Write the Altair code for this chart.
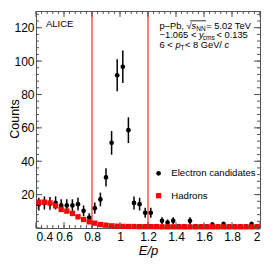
import altair as alt
import pandas as pd

# ---------------- data ----------------
ep_bins = [0.42, 0.46, 0.50, 0.54, 0.58, 0.62, 0.66, 0.70, 0.74, 0.78,
           0.82, 0.86, 0.90, 0.94, 0.98, 1.02, 1.06, 1.10, 1.14, 1.18,
           1.22, 1.26, 1.30, 1.34, 1.38, 1.42, 1.46, 1.50, 1.54, 1.58,
           1.62, 1.66, 1.70, 1.74, 1.78, 1.82, 1.86, 1.90, 1.94, 1.98]
electrons = [14.3, 15.0, 14.7, 15.0, 13.5, 13.5, 13.5, 14.3, 10.3, 6.3,
             11.9, 17.1, 30.3, 51.0, 91.5, 96.6, 58.6, 15.0, 14.3, 9.1,
             9.1, 1.0, 4.3, 3.3, 4.3, 1.2, 1.0, 4.3, 1.0, 1.0,
             1.0, 2.1, 1.0, 2.3, 1.0, 1.0, 1.0, 1.0, 2.3, 1.0]
electron_err = [3.8, 3.9, 3.8, 3.9, 3.7, 3.7, 3.7, 3.8, 3.2, 2.5,
                3.4, 4.1, 5.5, 7.1, 9.6, 9.8, 7.7, 3.9, 3.8, 3.0,
                3.0, 1.0, 2.1, 1.8, 2.1, 1.1, 1.0, 2.1, 1.0, 1.0,
                1.0, 1.4, 1.0, 1.5, 1.0, 1.0, 1.0, 1.0, 1.5, 1.0]
hadrons = [15.5, 15.5, 15.0, 13.3, 11.1, 10.1, 8.7, 6.7, 5.1, 3.7,
           2.9, 2.1, 1.7, 1.3, 1.1, 1.0, 0.9, 0.9, 0.8, 0.8,
           0.8, 0.8, 0.7, 0.7, 0.7, 0.7, 0.7, 0.7, 0.7, 0.7,
           0.7, 0.7, 0.7, 0.7, 0.7, 0.7, 0.7, 0.7, 0.7, 0.7]
cut_lines = [0.8, 1.2]

x_labels = [0.4, 0.6, 0.8, 1.0, 1.2, 1.4, 1.6, 1.8, 2.0]
y_labels = [20, 40, 60, 80, 100, 120]
x_minor = [round(0.4 + 0.04 * i, 2) for i in range(41)]
y_minor = [4 * i for i in range(33)]
y_major = [0] + y_labels

# ---------------- layout ----------------
W, H = 224, 217
FONT = "Liberation Sans"
AX = "#555555"
xs = alt.Scale(domain=[0.4, 2.0], nice=False, zero=False)
ys = alt.Scale(domain=[0, 130], nice=False, zero=False)

x_axis = alt.Axis(
    values=x_labels, format="~g", ticks=False, domain=False, grid=False,
    labelFont=FONT, labelFontSize=12, labelColor="black", labelPadding=3,
    title="E/p", titleFont=FONT, titleFontSize=13, titleFontStyle="italic",
    titleFontWeight="normal", titleColor="black", titlePadding=2)
y_axis = alt.Axis(
    values=y_labels, format="d", ticks=False, domain=False, grid=False,
    labelFont=FONT, labelFontSize=12, labelColor="black", labelPadding=2,
    title=None)

df = pd.DataFrame({"ep": ep_bins, "e": electrons, "err": electron_err, "h": hadrons})
df["lo"] = df["e"] - df["err"]
df["hi"] = df["e"] + df["err"]

layers = []

# error bars first (carry the axes)
layers.append(
    alt.Chart(df).mark_rule(color="black", strokeWidth=1.5)
    .encode(x=alt.X("ep:Q", scale=xs, axis=x_axis),
            y=alt.Y("lo:Q", scale=ys, axis=y_axis), y2="hi:Q")
)

layers.append(
    alt.Chart(pd.DataFrame({"c": cut_lines})).mark_rule(color="#ff0000", strokeWidth=1)
    .encode(x=alt.X("c:Q", scale=xs, axis=x_axis))
)

layers.append(
    alt.Chart(df).mark_point(shape="circle", filled=True, size=22, color="black", opacity=1)
    .encode(x=alt.X("ep:Q", scale=xs, axis=x_axis), y=alt.Y("e:Q", scale=ys, axis=y_axis))
)

layers.append(
    alt.Chart(df).mark_point(shape="square", filled=True, size=28, color="#ff0000", opacity=1)
    .encode(x=alt.X("ep:Q", scale=xs, axis=x_axis), y=alt.Y("h:Q", scale=ys, axis=y_axis))
)

# inward ticks on all four sides
def xticks(vals, L):
    d = pd.DataFrame({"v": vals})
    b = alt.Chart(d).mark_rule(color=AX, strokeWidth=1).encode(
        x=alt.X("v:Q", scale=xs, axis=x_axis), y=alt.value(H), y2=alt.value(H - L))
    t = alt.Chart(d).mark_rule(color=AX, strokeWidth=1).encode(
        x=alt.X("v:Q", scale=xs, axis=x_axis), y=alt.value(0), y2=alt.value(L))
    return [b, t]

def yticks(vals, L):
    d = pd.DataFrame({"v": vals})
    l = alt.Chart(d).mark_rule(color=AX, strokeWidth=1).encode(
        y=alt.Y("v:Q", scale=ys, axis=y_axis), x=alt.value(0), x2=alt.value(L))
    r = alt.Chart(d).mark_rule(color=AX, strokeWidth=1).encode(
        y=alt.Y("v:Q", scale=ys, axis=y_axis), x=alt.value(W), x2=alt.value(W - L))
    return [l, r]

layers += xticks(x_minor, 3) + xticks(x_labels, 6)
layers += yticks(y_minor, 3) + yticks(y_major, 6)

one = alt.Data(values=[{}])
FS = 9.3
SUB = 6.5

def txt(s, x, y, size=FS, style="normal", align="left"):
    return alt.Chart(one).mark_text(
        text=s, align=align, baseline="middle", font=FONT, fontSize=size,
        fontStyle=style, color="black").encode(x=alt.value(x), y=alt.value(y))

# y-axis title drawn as rotated text, kept inside the canvas
layers.append(
    alt.Chart(one).mark_text(
        text="Counts", angle=270, align="center", baseline="alphabetic",
        font=FONT, fontSize=12.5, color="black")
    .encode(x=alt.value(-17.5), y=alt.value(108))
)

L1, L2, L3 = 15.0, 24.0, 33.5
layers += [
    txt("ALICE", 10, 13, 9.5),
    # line 1
    txt("p\u2013Pb, \u221a", 123.6, L1),
    txt("s", 155.4, L1, style="italic"),
    txt("NN", 160.2, L1 + 2.5, SUB),
    txt(" = 5.02 TeV", 170.3, L1),
    # line 2
    txt("\u22121.065 < ", 123.6, L2),
    txt("y", 162.9, L2, style="italic"),
    txt("cms", 166.8, L2 + 3, SUB),
    txt(" < 0.135", 180.5, L2),
    # line 3
    txt("6 < ", 123.6, L3),
    txt("p", 139.4, L3, style="italic"),
    txt("T", 144.6, L3 + 3, SUB),
    txt(" < 8 GeV/", 149.0, L3),
    txt("c", 188.6, L3, style="italic"),
    # legend
    txt("Electron candidates", 135.3, 162.3, 9.6),
    txt("Hadrons", 135.3, 184.7, 9.6),
]

layers.append(
    alt.Chart(one).mark_rule(color="black", strokeWidth=0.8)
    .encode(x=alt.value(154.3), x2=alt.value(170.0), y=alt.value(L1 - 5.2))
)
layers.append(
    alt.Chart(one).mark_point(shape="circle", filled=True, size=22, color="black", opacity=1)
    .encode(x=alt.value(122.6), y=alt.value(162.3))
)
layers.append(
    alt.Chart(one).mark_point(shape="square", filled=True, size=28, color="#ff0000", opacity=1)
    .encode(x=alt.value(122.6), y=alt.value(184.7))
)

chart = (
    alt.layer(*layers)
    .properties(width=W, height=H, padding={"left": 28, "top": 3, "right": 8, "bottom": 30},
                autosize=alt.AutoSizeParams(type="none"))
    .configure_view(stroke=AX, strokeWidth=1)
)

chart.save("out.html", embed_options={"renderer": "svg", "actions": False})
